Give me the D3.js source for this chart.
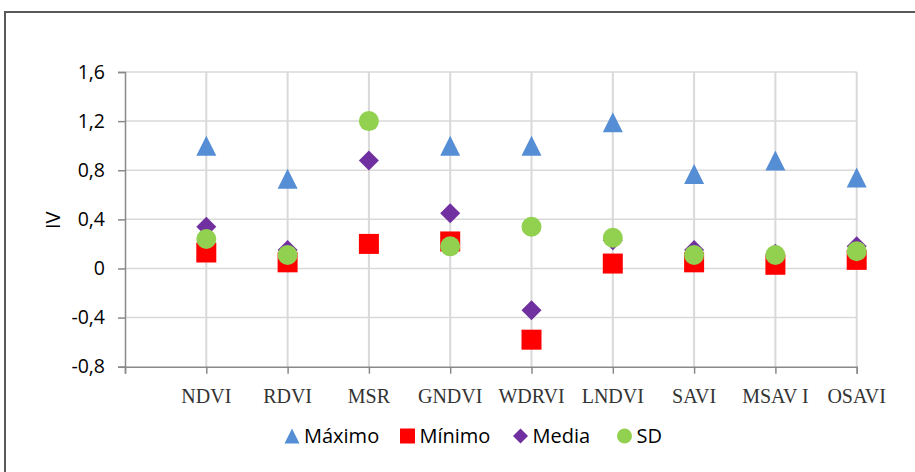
<!DOCTYPE html>
<html>
<head>
<meta charset="utf-8">
<script src="https://cdn.jsdelivr.net/npm/d3@7"></script>
<style>
    body { margin: 0; background: #fff; }
    svg { display: block; }
</style>
</head>
<body>
<div id="chart-area"></div>
<script>

// categories (vegetation indices) and series values
let indices_iv = ["NDVI", "RDVI", "MSR", "GNDVI", "WDRVI", "LNDVI", "SAVI", "MSAV I", "OSAVI"];
let maximo_iv = [1.00, 0.73, null, 1.00, 1.00, 1.19, 0.77, 0.88, 0.74];
let minimo_iv = [0.13, 0.05, 0.20, 0.22, -0.58, 0.04, 0.05, 0.03, 0.07];
let media_iv = [0.34, 0.15, 0.88, 0.45, -0.34, 0.23, 0.15, 0.12, 0.18];
let sd_iv = [0.24, 0.11, 1.20, 0.18, 0.34, 0.25, 0.11, 0.11, 0.14];
let yTicks_iv = [-0.8, -0.4, 0, 0.4, 0.8, 1.2, 1.6];
let yTickLabels_iv = ["-0,8", "-0,4", "0", "0,4", "0,8", "1,2", "1,6"];
let seriesNames_iv = ["Máximo", "Mínimo", "Media", "SD"];

// marker shapes, drawn around (0,0)
function markerPath(shape, s) {
    let h = s / 2;
    if (shape === "triangle") return `M0,${-h}L${h},${h}L${-h},${h}Z`;
    if (shape === "square") return `M${-h},${-h}H${h}V${h}H${-h}Z`;
    if (shape === "diamond") return `M0,${-h}L${h},0L0,${h}L${-h},0Z`;
    return d3.arc()({innerRadius: 0, outerRadius: h, startAngle: 0, endAngle: 2 * Math.PI});
}

let series_iv = [
    {name: seriesNames_iv[0], values: maximo_iv, shape: "triangle", color: "#558ed5"},
    {name: seriesNames_iv[1], values: minimo_iv, shape: "square", color: "#ff0000"},
    {name: seriesNames_iv[2], values: media_iv, shape: "diamond", color: "#7030a0"},
    {name: seriesNames_iv[3], values: sd_iv, shape: "circle", color: "#92d050"}
];

let width_iv = 915, height_iv = 472;
let margin_iv = {top: 72, left: 125, right: 58.3, bottom: 105.3};

let svg_iv = d3.select("#chart-area").append("svg")
    .attr("width", width_iv)
    .attr("height", height_iv);

svg_iv.append("rect").attr("width", width_iv).attr("height", height_iv).attr("fill", "#fff");

// outer frame (only top and left edges show in the picture)
svg_iv.append("path")
    .attr("d", `M5,${height_iv}V12H${width_iv}`)
    .attr("fill", "none")
    .attr("stroke", "#595959")
    .attr("stroke-width", 2);

let xScale_iv = d3.scaleLinear().domain([0, indices_iv.length]).range([margin_iv.left, width_iv - margin_iv.right]);
let yScale_iv = d3.scaleLinear().domain([-0.8, 1.6]).range([height_iv - margin_iv.bottom, margin_iv.top]);

// horizontal gridlines
svg_iv.append("g").selectAll("line")
    .data(yTicks_iv.filter(d => d > -0.8))
    .enter().append("line")
    .attr("x1", xScale_iv(0)).attr("x2", xScale_iv(indices_iv.length))
    .attr("y1", d => yScale_iv(d)).attr("y2", d => yScale_iv(d))
    .attr("stroke", "#d9d9d9").attr("stroke-width", 1.5);

// vertical gridlines at each category
svg_iv.append("g").selectAll("line")
    .data(indices_iv)
    .enter().append("line")
    .attr("x1", (d, i) => xScale_iv(i + 1)).attr("x2", (d, i) => xScale_iv(i + 1))
    .attr("y1", yScale_iv(1.6)).attr("y2", yScale_iv(-0.8))
    .attr("stroke", "#d9d9d9").attr("stroke-width", 2);

// y axis
let yAxis_iv = svg_iv.append("g")
    .attr("transform", `translate(${margin_iv.left},0)`)
    .call(d3.axisLeft(yScale_iv).tickValues(yTicks_iv)
        .tickFormat((d, i) => yTickLabels_iv[i]).tickSize(7).tickPadding(13));
yAxis_iv.select(".domain").attr("stroke", "#898989").attr("stroke-width", 1.5);
yAxis_iv.selectAll(".tick line").attr("stroke", "#898989").attr("stroke-width", 1.5);
yAxis_iv.selectAll("text")
    .attr("fill", "#000")
    .style("font-family", "'Open Sans', sans-serif")
    .style("font-size", "19.5px");

// x axis (ticks only, category names drawn separately)
let xAxis_iv = svg_iv.append("g")
    .attr("transform", `translate(0,${yScale_iv(-0.8)})`)
    .call(d3.axisBottom(xScale_iv).ticks(indices_iv.length).tickSize(7).tickFormat(""));
xAxis_iv.select(".domain").attr("stroke", "#898989").attr("stroke-width", 1.5);
xAxis_iv.selectAll(".tick line").attr("stroke", "#898989").attr("stroke-width", 1.5);

svg_iv.append("g").selectAll("text")
    .data(indices_iv)
    .enter().append("text")
    .attr("x", (d, i) => xScale_iv(i + 1))
    .attr("y", yScale_iv(-0.8) + 36)
    .attr("text-anchor", "middle")
    .style("font-family", "'Liberation Serif', 'Times New Roman', serif")
    .style("font-size", "20px")
    .style("font-weight", "400")
    .attr("fill", "#333")
    .text(d => d);

// y axis title
svg_iv.append("text")
    .attr("transform", `translate(60,${yScale_iv(0.4) + 1}) rotate(-90)`)
    .attr("text-anchor", "middle")
    .style("font-family", "'Open Sans', sans-serif")
    .style("font-size", "20px")
    .text("IV");

// markers
series_iv.forEach(s => {
    svg_iv.append("g").selectAll("path")
        .data(s.values.map((v, i) => ({i: i, v: v})).filter(d => d.v !== null))
        .enter().append("path")
        .attr("d", markerPath(s.shape, 20))
        .attr("transform", d => `translate(${xScale_iv(d.i + 1)},${yScale_iv(d.v)})`)
        .attr("fill", s.color);
});

// legend
let legendX_iv = [292, 407.5, 520.5, 624.5];
let legend_iv = svg_iv.append("g").selectAll("g")
    .data(series_iv)
    .enter().append("g")
    .attr("transform", (d, i) => `translate(${legendX_iv[i]},436)`);
legend_iv.append("path")
    .attr("d", d => markerPath(d.shape, 15))
    .attr("fill", d => d.color);
legend_iv.append("text")
    .attr("x", 12)
    .attr("y", 7)
    .style("font-family", "'Open Sans', sans-serif")
    .style("font-size", "20px")
    .text(d => d.name);

</script>
</body>
</html>
